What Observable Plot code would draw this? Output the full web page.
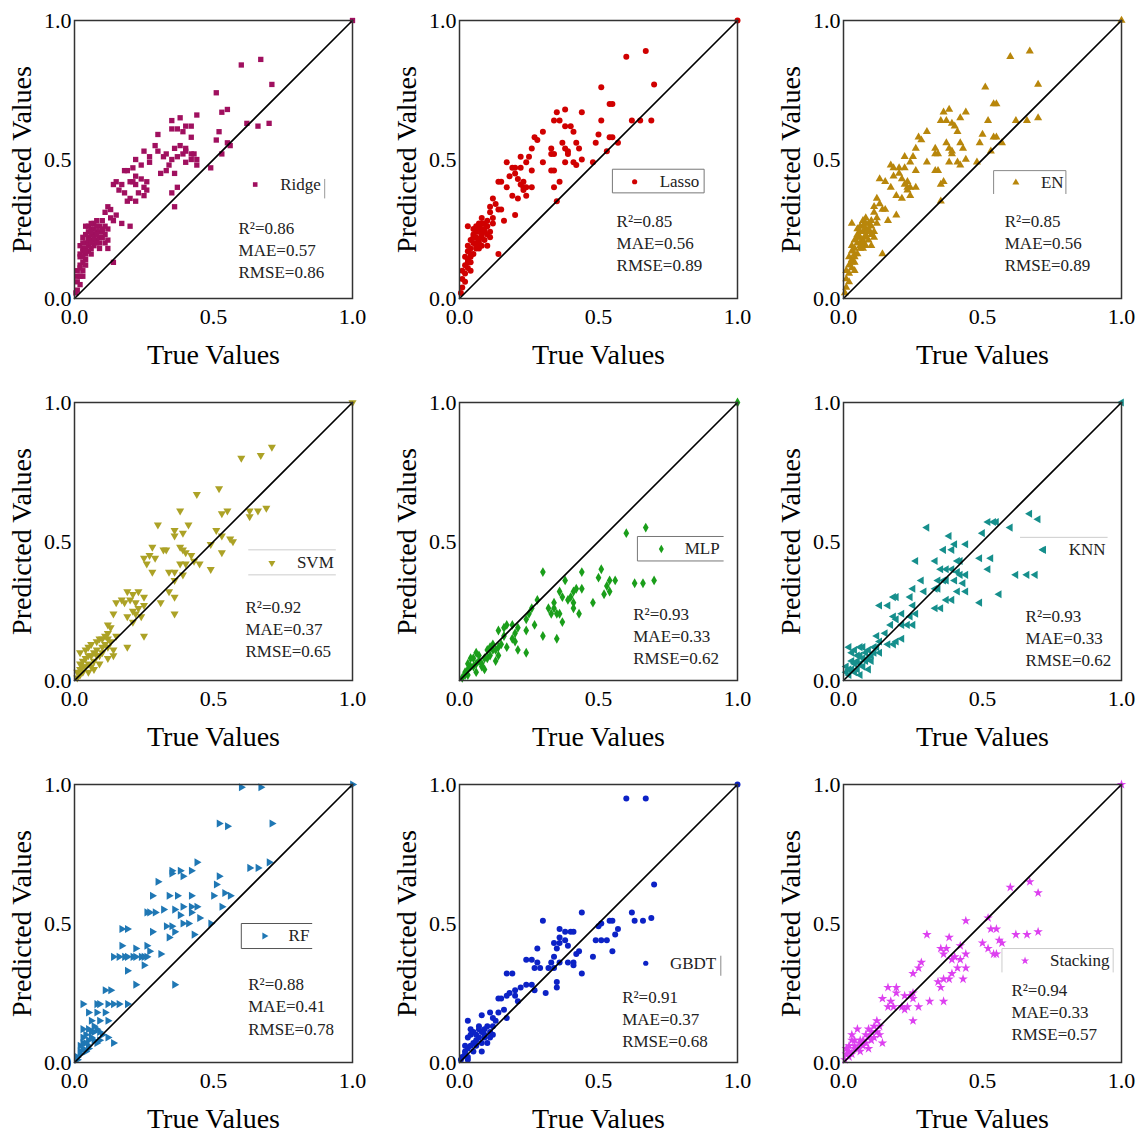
<!DOCTYPE html>
<html><head><meta charset="utf-8">
<script src="https://cdn.jsdelivr.net/npm/d3@7"></script>
<script src="https://cdn.jsdelivr.net/npm/@observablehq/plot@0.6"></script>
<style>
body{margin:0;background:#fff;}
#wrap{position:relative;width:1137px;height:1135px;overflow:hidden;background:#fff;}
.panel{position:absolute;width:379px;}
.panel svg{max-width:none !important;}
</style></head><body><div id="wrap"></div>
<script>
const models = ["Ridge","Lasso","EN","SVM","MLP","KNN","RF","GBDT","Stacking"];
const colors = ["#a0105f","#d00000","#b8860b","#aca226","#1a9e1a","#168f8c","#1f77b4","#0c22c6","#dd40f0"];
const symbols = ["square","circle","triangle","triangle","diamond","triangle","triangle","circle","star"];
const rotations = [0,0,0,180,0,-90,90,0,0];
const r2 = [0.86,0.85,0.85,0.92,0.93,0.93,0.88,0.91,0.94];
const mae = [0.57,0.56,0.56,0.37,0.33,0.33,0.41,0.37,0.33];
const rmse = [0.86,0.89,0.89,0.65,0.62,0.62,0.78,0.68,0.57];
const xTicks = [0,0.5,1];
const yTicksList = [[0,0.5,1],[0,0.5,1],[0,0.5,1],[0,0.5,1],[0.5,1],[0,0.5,1],[0,0.5,1],[0,0.5,1],[0,0.5,1]];

const ridgePoints = [[0.60,0.84],[0.67,0.86],[0.71,0.77],[0.51,0.74],[0.55,0.68],[0.53,0.67],[0.44,0.66],[0.38,0.65],[0.35,0.64],[0.62,0.63],[0.66,0.62],[0.70,0.63],[0.52,0.60],[0.35,0.61],[0.37,0.61],[0.39,0.60],[0.40,0.62],[0.42,0.62],[0.30,0.59],[0.42,0.58],[0.51,0.57],[0.55,0.56],[0.56,0.55],[0.53,0.52],[0.49,0.47],
[0.38,0.55],[0.40,0.54],[0.36,0.54],[0.39,0.52],[0.40,0.53],[0.42,0.52],[0.43,0.52],[0.44,0.50],[0.44,0.48],[0.42,0.50],[0.40,0.49],[0.37,0.51],[0.35,0.50],[0.34,0.48],[0.36,0.45],[0.33,0.46],[0.31,0.45],[0.33,0.52],[0.32,0.51],
[0.29,0.55],[0.25,0.53],[0.30,0.53],[0.27,0.51],[0.22,0.50],[0.24,0.48],[0.27,0.49],
[0.18,0.46],[0.19,0.46],[0.21,0.47],[0.22,0.44],[0.21,0.42],[0.22,0.41],[0.24,0.43],[0.26,0.42],[0.25,0.40],[0.20,0.42],[0.17,0.41],[0.15,0.42],[0.14,0.41],[0.16,0.39],[0.18,0.38],[0.20,0.36],[0.22,0.35],[0.19,0.35],[0.25,0.37],[0.26,0.39],[0.23,0.38],
[0.35,0.38],[0.37,0.40],[0.36,0.33],
[0.12,0.33],[0.13,0.32],[0.11,0.31],[0.15,0.30],[0.14,0.28],[0.13,0.29],[0.17,0.27],[0.20,0.26],[0.10,0.28],[0.09,0.26],[0.10,0.24],[0.12,0.25],[0.08,0.28],[0.07,0.27],[0.09,0.22],[0.11,0.20],[0.12,0.18],[0.09,0.18],[0.08,0.21],[0.07,0.23],[0.06,0.25],[0.05,0.24],[0.04,0.26],[0.05,0.22],[0.06,0.21],[0.04,0.20],[0.03,0.22],[0.07,0.19],[0.08,0.24],[0.06,0.18],[0.05,0.17],[0.04,0.16],[0.03,0.18],[0.02,0.19],[0.04,0.14],[0.03,0.13],[0.02,0.15],[0.03,0.10],[0.02,0.12],[0.01,0.10],[0.02,0.08],[0.01,0.06],[0.02,0.05],[0.01,0.03],[0.005,0.02],[0.01,0.08],[0.02,0.16],[0.03,0.15],[0.05,0.19],[0.06,0.23],[0.07,0.21],[0.08,0.20],[0.09,0.24],[0.10,0.22],[0.05,0.20],[0.04,0.23],[0.06,0.16],[0.14,0.13],[0.07,0.25],[0.08,0.26],[0.06,0.27],[0.11,0.26],[0.03,0.17],[0.04,0.12],
[0.05,0.26],[0.06,0.24],[0.07,0.22],[0.08,0.23],[0.09,0.20],[0.10,0.25],[0.11,0.23],[0.12,0.21],[0.05,0.21],[0.04,0.18],[0.03,0.20],[0.02,0.11],[0.03,0.08],[0.04,0.17],[0.06,0.20],[1.0,1.0]];

const lassoPoints = [[0.60,0.87],[0.67,0.89],[0.70,0.77],[0.51,0.76],[0.54,0.70],[0.55,0.70],[0.44,0.67],[0.35,0.67],[0.38,0.68],[0.34,0.64],[0.36,0.64],[0.38,0.62],[0.40,0.62],[0.51,0.64],[0.62,0.64],[0.65,0.64],[0.69,0.64],[0.30,0.60],[0.41,0.60],[0.50,0.59],[0.54,0.58],[0.55,0.58],[0.57,0.56],[0.49,0.56],[0.53,0.53],[0.48,0.49],
[0.27,0.58],[0.28,0.57],[0.26,0.54],[0.22,0.51],[0.24,0.49],[0.25,0.51],[0.26,0.46],[0.30,0.49],[0.33,0.54],[0.33,0.52],[0.34,0.52],[0.37,0.56],[0.38,0.54],[0.39,0.53],[0.39,0.52],[0.42,0.56],[0.43,0.54],[0.44,0.50],[0.41,0.49],[0.42,0.48],[0.38,0.49],[0.33,0.46],[0.34,0.46],[0.34,0.40],[0.36,0.42],[0.35,0.35],
[0.17,0.49],[0.19,0.47],[0.20,0.47],[0.22,0.47],[0.20,0.45],[0.18,0.44],[0.21,0.43],[0.22,0.41],[0.23,0.42],[0.24,0.40],[0.23,0.40],[0.26,0.40],[0.23,0.39],[0.14,0.42],[0.15,0.42],[0.17,0.40],[0.19,0.37],[0.21,0.36],[0.24,0.37],
[0.12,0.36],[0.13,0.34],[0.11,0.33],[0.14,0.32],[0.15,0.32],[0.11,0.31],[0.12,0.29],[0.16,0.28],[0.20,0.30],[0.10,0.28],[0.08,0.29],[0.07,0.27],[0.03,0.26],[0.14,0.16],
[0.10,0.26],[0.09,0.24],[0.11,0.22],[0.08,0.25],[0.07,0.24],[0.06,0.26],[0.09,0.21],[0.10,0.19],[0.08,0.19],[0.07,0.21],[0.06,0.22],[0.05,0.23],[0.05,0.20],[0.04,0.21],[0.04,0.18],[0.06,0.18],[0.05,0.16],[0.03,0.17],[0.03,0.14],[0.04,0.13],[0.02,0.15],[0.02,0.12],[0.03,0.11],[0.02,0.09],[0.01,0.07],[0.02,0.06],[0.01,0.04],[0.005,0.02],[0.01,0.10],[0.04,0.15],[0.06,0.20],[0.07,0.18],[0.08,0.22],[0.09,0.27],[0.12,0.27],[0.11,0.24],[0.05,0.25],[0.03,0.19],[0.06,0.24],[0.04,0.10],
[0.07,0.26],[0.08,0.27],[0.09,0.25],[0.10,0.23],[0.05,0.22],[0.06,0.19],[0.04,0.16],[0.03,0.13],[0.07,0.20],[0.08,0.23],[1.0,1.0]];

const enPoints = [[0.60,0.87],[0.67,0.89],[0.70,0.77],[0.51,0.76],[0.54,0.70],[0.55,0.70],[0.44,0.67],[0.36,0.67],[0.38,0.68],[0.35,0.64],[0.37,0.64],[0.39,0.63],[0.40,0.62],[0.42,0.65],[0.52,0.64],[0.62,0.64],[0.66,0.64],[0.70,0.65],[0.30,0.60],[0.41,0.60],[0.50,0.59],[0.54,0.58],[0.55,0.58],[0.57,0.56],[0.49,0.56],[0.53,0.53],[0.48,0.49],
[0.27,0.58],[0.28,0.57],[0.26,0.54],[0.22,0.51],[0.24,0.49],[0.25,0.51],[0.26,0.46],[0.30,0.49],[0.33,0.54],[0.33,0.52],[0.34,0.52],[0.37,0.56],[0.38,0.54],[0.39,0.53],[0.39,0.52],[0.42,0.56],[0.43,0.54],[0.44,0.50],[0.41,0.49],[0.42,0.48],[0.38,0.49],[0.33,0.46],[0.34,0.46],[0.35,0.41],[0.36,0.42],[0.35,0.35],
[0.17,0.48],[0.18,0.47],[0.20,0.47],[0.22,0.47],[0.20,0.45],[0.18,0.44],[0.21,0.43],[0.22,0.41],[0.23,0.42],[0.24,0.40],[0.23,0.40],[0.26,0.40],[0.23,0.39],[0.13,0.43],[0.15,0.42],[0.17,0.40],[0.19,0.37],[0.21,0.36],[0.24,0.37],
[0.12,0.36],[0.13,0.34],[0.11,0.33],[0.14,0.32],[0.15,0.32],[0.11,0.31],[0.12,0.29],[0.16,0.28],[0.19,0.30],[0.10,0.28],[0.08,0.29],[0.07,0.28],[0.03,0.27],[0.14,0.16],
[0.10,0.26],[0.09,0.24],[0.11,0.22],[0.08,0.25],[0.07,0.24],[0.06,0.26],[0.09,0.21],[0.10,0.19],[0.08,0.19],[0.07,0.21],[0.06,0.22],[0.05,0.23],[0.05,0.20],[0.04,0.21],[0.04,0.18],[0.06,0.18],[0.05,0.16],[0.03,0.17],[0.03,0.14],[0.04,0.13],[0.02,0.15],[0.02,0.12],[0.03,0.11],[0.02,0.09],[0.01,0.07],[0.02,0.06],[0.01,0.04],[0.005,0.02],[0.01,0.10],[0.04,0.15],[0.06,0.20],[0.07,0.18],[0.08,0.22],[0.09,0.27],[0.12,0.27],[0.11,0.24],[0.05,0.25],[0.03,0.19],[0.06,0.24],[0.04,0.10],
[0.07,0.26],[0.08,0.27],[0.09,0.25],[0.10,0.23],[0.05,0.22],[0.06,0.19],[0.04,0.16],[0.03,0.13],[0.07,0.20],[0.08,0.23],[1.0,1.0]];

const svmPoints = [[0.71,0.84],[0.67,0.81],[0.60,0.80],[0.52,0.69],[0.44,0.67],[0.69,0.62],[0.66,0.61],[0.63,0.61],[0.63,0.59],[0.53,0.60],[0.55,0.61],[0.38,0.61],[0.30,0.56],[0.41,0.56],[0.36,0.54],[0.36,0.52],[0.39,0.53],[0.51,0.54],[0.53,0.52],[0.56,0.51],[0.57,0.50],[0.49,0.49],[0.53,0.46],[0.49,0.40],[0.28,0.48],[0.32,0.47],[0.33,0.47],[0.38,0.48],[0.39,0.47],[0.40,0.46],[0.42,0.45],[0.43,0.43],[0.45,0.42],[0.38,0.42],[0.40,0.42],[0.36,0.39],[0.34,0.39],[0.39,0.38],[0.36,0.36],[0.25,0.44],[0.27,0.45],[0.29,0.44],[0.26,0.42],[0.28,0.39],[0.34,0.32],[0.36,0.30],[0.31,0.28],[0.36,0.24],
[0.19,0.32],[0.21,0.31],[0.23,0.32],[0.15,0.28],[0.17,0.29],[0.18,0.28],[0.20,0.29],[0.22,0.28],[0.23,0.26],[0.25,0.30],[0.25,0.27],[0.21,0.25],[0.22,0.24],[0.24,0.23],[0.21,0.21],[0.19,0.23],[0.25,0.16],[0.14,0.24],[0.12,0.20],[0.13,0.19],[0.12,0.17],[0.15,0.16],[0.11,0.16],[0.19,0.12],
[0.02,0.10],[0.04,0.11],[0.06,0.13],[0.08,0.14],[0.09,0.15],[0.05,0.12],[0.03,0.07],[0.07,0.07],[0.08,0.09],[0.10,0.10],[0.12,0.12],[0.09,0.06],[0.07,0.04],[0.05,0.03],[0.02,0.02],[0.12,0.08],[0.14,0.09],[0.14,0.11],
[0.01,0.01],[0.02,0.04],[0.03,0.03],[0.04,0.05],[0.05,0.06],[0.06,0.05],[0.04,0.08],[0.03,0.05],[0.06,0.09],[0.08,0.11],[0.07,0.10],[0.10,0.12],[0.11,0.13],[0.09,0.09],[0.05,0.09],[0.01,0.03],[0.02,0.06],[0.10,0.15],[0.12,0.15],[0.13,0.14],[1.0,1.0]];

const mlpPoints = [[0.67,0.55],[0.60,0.53],[0.30,0.39],[0.38,0.36],[0.44,0.39],[0.51,0.40],[0.50,0.37],[0.54,0.36],[0.56,0.36],[0.63,0.35],[0.66,0.35],[0.70,0.36],[0.53,0.34],[0.54,0.32],[0.52,0.31],[0.48,0.28],
[0.36,0.32],[0.37,0.30],[0.39,0.29],[0.40,0.30],[0.41,0.32],[0.42,0.33],[0.44,0.33],[0.41,0.28],[0.41,0.26],[0.43,0.24],[0.36,0.24],[0.35,0.24],[0.33,0.24],[0.34,0.26],[0.37,0.21],[0.35,0.15],[0.30,0.16],[0.34,0.28],[0.32,0.26],
[0.28,0.29],[0.26,0.26],[0.25,0.24],[0.24,0.22],[0.27,0.20],[0.24,0.18],[0.21,0.19],[0.20,0.17],[0.19,0.15],[0.16,0.16],[0.14,0.18],[0.16,0.19],[0.17,0.20],[0.19,0.20],[0.20,0.14],[0.24,0.10],[0.21,0.11],[0.17,0.12],
[0.14,0.12],[0.12,0.11],[0.10,0.11],[0.11,0.09],[0.09,0.08],[0.07,0.07],[0.05,0.08],[0.04,0.08],[0.08,0.05],[0.03,0.04],[0.02,0.02],[0.01,0.01],[0.06,0.03],[0.09,0.04],[0.14,0.09],[0.13,0.07],
[0.02,0.03],[0.03,0.02],[0.04,0.05],[0.05,0.05],[0.06,0.06],[0.07,0.09],[0.08,0.06],[0.10,0.08],[0.11,0.12],[0.12,0.13],[0.13,0.11],[0.15,0.13],[0.03,0.06],[0.06,0.10],[1.0,1.0]];

const knnPoints = [[0.67,0.60],[0.70,0.58],[0.52,0.57],[0.54,0.57],[0.55,0.57],[0.60,0.55],[0.30,0.55],[0.50,0.53],[0.38,0.52],[0.40,0.49],[0.44,0.49],[0.36,0.47],[0.39,0.47],[0.72,0.47],[0.26,0.43],[0.33,0.43],[0.41,0.43],[0.42,0.43],[0.49,0.44],[0.53,0.44],[0.52,0.40],[0.35,0.40],[0.37,0.40],[0.39,0.40],[0.41,0.39],[0.42,0.38],[0.44,0.38],[0.62,0.38],[0.66,0.38],[0.69,0.38],[0.28,0.36],[0.34,0.36],[0.36,0.36],[0.37,0.36],[0.40,0.36],[0.43,0.35],[0.25,0.33],[0.29,0.32],[0.33,0.33],[0.34,0.33],[0.41,0.32],[0.44,0.32],[0.56,0.31],[0.49,0.28],[0.37,0.29],[0.39,0.29],[0.35,0.26],[0.33,0.26],
[0.18,0.30],[0.19,0.30],[0.24,0.30],[0.13,0.27],[0.16,0.27],[0.25,0.27],[0.26,0.24],[0.24,0.23],[0.25,0.20],[0.21,0.24],[0.19,0.22],[0.18,0.23],[0.21,0.20],[0.23,0.20],[0.17,0.20],[0.15,0.17],[0.16,0.13],[0.18,0.13],[0.19,0.14],[0.21,0.15],[0.13,0.14],[0.12,0.16],
[0.02,0.12],[0.04,0.11],[0.06,0.12],[0.07,0.12],[0.09,0.11],[0.11,0.12],[0.13,0.10],[0.03,0.10],[0.05,0.09],[0.07,0.08],[0.09,0.08],[0.10,0.07],[0.03,0.07],[0.01,0.05],[0.05,0.04],[0.07,0.05],[0.01,0.03],[0.02,0.02],[0.06,0.02],[0.09,0.04],
[0.03,0.04],[0.04,0.06],[0.05,0.07],[0.06,0.06],[0.08,0.07],[0.08,0.10],[0.10,0.09],[0.11,0.10],[0.12,0.12],[0.04,0.03],[0.02,0.04],[0.06,0.09],[1.0,1.0]];

const rfPoints = [[0.60,0.99],[0.67,0.99],[0.71,0.86],[0.52,0.86],[0.55,0.85],[0.63,0.70],[0.66,0.70],[0.70,0.72],[0.44,0.72],[0.42,0.69],[0.38,0.69],[0.35,0.69],[0.35,0.68],[0.39,0.67],[0.52,0.67],[0.51,0.64],[0.30,0.65],[0.54,0.61],[0.56,0.60],[0.50,0.60],[0.28,0.60],[0.34,0.60],[0.37,0.60],[0.42,0.60],[0.53,0.56],[0.39,0.56],[0.42,0.56],[0.44,0.56],[0.32,0.55],[0.36,0.55],[0.38,0.53],[0.42,0.54],[0.45,0.52],[0.26,0.54],[0.27,0.54],[0.29,0.54],[0.49,0.50],[0.33,0.49],[0.35,0.49],[0.36,0.47],[0.34,0.45],[0.39,0.50],[0.41,0.50],[0.43,0.46],[0.28,0.47],[0.17,0.48],[0.19,0.48],
[0.17,0.42],[0.22,0.41],[0.26,0.42],[0.14,0.38],[0.16,0.38],[0.18,0.38],[0.19,0.38],[0.21,0.38],[0.22,0.38],[0.24,0.38],[0.25,0.38],[0.26,0.38],[0.27,0.40],[0.25,0.35],[0.19,0.33],[0.31,0.39],[0.22,0.28],[0.36,0.28],
[0.11,0.26],[0.13,0.26],[0.03,0.21],[0.08,0.21],[0.09,0.21],[0.12,0.21],[0.14,0.21],[0.16,0.21],[0.19,0.21],[0.05,0.18],[0.08,0.18],[0.11,0.18],[0.06,0.15],[0.09,0.15],[0.12,0.15],[0.05,0.12],[0.07,0.11],[0.09,0.11],[0.12,0.09],[0.14,0.07],[0.03,0.07],[0.05,0.06],[0.02,0.04],[0.04,0.04],[0.06,0.09],[0.03,0.12],[0.08,0.07],[0.01,0.01],
[0.02,0.06],[0.03,0.09],[0.04,0.10],[0.05,0.08],[0.06,0.11],[0.07,0.13],[0.08,0.12],[0.04,0.07],[0.02,0.03],[0.03,0.05],[0.05,0.05],[0.07,0.08],[0.09,0.08],[0.10,0.10],[0.01,0.02],[1.0,1.0]];

const gbdtPoints = [[0.60,0.95],[0.67,0.95],[0.70,0.64],[0.44,0.54],[0.30,0.51],[0.62,0.54],[0.63,0.51],[0.66,0.51],[0.69,0.52],[0.54,0.51],[0.55,0.51],[0.51,0.50],[0.50,0.49],[0.57,0.48],[0.56,0.46],[0.53,0.44],[0.49,0.44],[0.51,0.44],[0.55,0.40],[0.48,0.38],[0.36,0.48],[0.38,0.47],[0.40,0.47],[0.41,0.47],
[0.36,0.45],[0.34,0.43],[0.36,0.43],[0.38,0.44],[0.39,0.42],[0.35,0.41],[0.42,0.39],[0.43,0.40],[0.41,0.36],[0.39,0.36],[0.41,0.35],[0.44,0.32],[0.36,0.36],[0.34,0.38],[0.33,0.36],[0.32,0.34],[0.34,0.34],[0.35,0.29],[0.35,0.27],[0.31,0.25],
[0.28,0.41],[0.24,0.37],[0.26,0.37],[0.28,0.36],[0.27,0.34],[0.29,0.34],[0.17,0.32],[0.19,0.32],[0.24,0.28],[0.26,0.28],[0.27,0.26],[0.22,0.27],[0.20,0.26],[0.18,0.25],[0.20,0.24],[0.17,0.24],[0.21,0.22],[0.14,0.23],[0.15,0.23],[0.16,0.19],[0.14,0.18],[0.12,0.16],[0.11,0.18],[0.13,0.15],[0.17,0.16],[0.11,0.11],[0.08,0.17],[0.07,0.13],[0.03,0.15],[0.09,0.12],
[0.04,0.12],[0.06,0.10],[0.08,0.11],[0.09,0.10],[0.03,0.09],[0.05,0.07],[0.06,0.08],[0.08,0.07],[0.10,0.07],[0.02,0.06],[0.03,0.05],[0.05,0.04],[0.08,0.04],[0.02,0.04],[0.01,0.02],[0.03,0.01],[0.005,0.01],[0.12,0.10],
[0.04,0.06],[0.06,0.06],[0.07,0.09],[0.09,0.09],[0.11,0.09],[0.04,0.10],[0.05,0.11],[0.07,0.12],[0.10,0.13],[0.12,0.13],[0.02,0.03],[0.03,0.02],[1.0,1.0]];

const stackingPoints = [[0.60,0.63],[0.67,0.65],[0.70,0.61],[0.52,0.52],[0.44,0.51],[0.30,0.46],[0.53,0.48],[0.55,0.48],[0.62,0.46],[0.66,0.46],[0.70,0.47],[0.50,0.43],[0.56,0.44],[0.57,0.43],[0.52,0.41],[0.54,0.39],[0.55,0.39],[0.38,0.45],[0.35,0.41],[0.37,0.41],[0.42,0.42],
[0.36,0.39],[0.39,0.37],[0.40,0.38],[0.42,0.37],[0.44,0.39],[0.41,0.34],[0.44,0.34],[0.43,0.30],[0.39,0.32],[0.38,0.30],[0.36,0.30],[0.35,0.27],[0.34,0.29],[0.36,0.22],[0.31,0.22],[0.28,0.36],[0.27,0.34],[0.25,0.32],
[0.16,0.27],[0.19,0.27],[0.19,0.25],[0.22,0.24],[0.24,0.24],[0.25,0.25],[0.25,0.23],[0.23,0.20],[0.22,0.19],[0.21,0.20],[0.18,0.20],[0.17,0.22],[0.14,0.23],[0.25,0.15],[0.16,0.20],[0.27,0.20],
[0.12,0.15],[0.13,0.13],[0.11,0.13],[0.09,0.12],[0.12,0.11],[0.14,0.07],[0.11,0.09],[0.09,0.09],[0.06,0.08],[0.07,0.06],[0.05,0.12],[0.03,0.10],[0.03,0.08],[0.04,0.06],[0.01,0.05],[0.01,0.03],[0.02,0.02],[0.005,0.01],[0.06,0.04],[0.09,0.05],
[0.02,0.04],[0.03,0.03],[0.04,0.05],[0.05,0.05],[0.06,0.07],[0.07,0.08],[0.08,0.07],[0.10,0.08],[0.08,0.10],[0.10,0.11],[0.13,0.10],[0.04,0.08],[0.02,0.06],[1.0,1.0]];

const pointSets = [ridgePoints,lassoPoints,enPoints,svmPoints,mlpPoints,knnPoints,rfPoints,gbdtPoints,stackingPoints];

// legend placement (data units within each panel): symbol x, symbol y, label x
const legendSymX = [0.65,0.63,0.62,0.71,0.726,0.716,0.683,0.67,0.653];
const legendSymY = [0.41,0.42,0.417,0.423,0.473,0.47,0.455,0.357,0.366];
const legendLabelX = [0.74,0.72,0.71,0.80,0.81,0.81,0.77,0.757,0.743];
const legendBoxes = [
  {x1:0.90,x2:0.90,y1:0.36,y2:0.43,sides:"r",stroke:"#999"},
  {x1:0.55,x2:0.88,y1:0.38,y2:0.465,sides:"tlbr",stroke:"#777"},
  {x1:0.54,x2:0.80,y1:0.376,y2:0.46,sides:"tlr",stroke:"#888"},
  {x1:0.625,x2:0.94,y1:0.38,y2:0.47,sides:"tb",stroke:"#ccc"},
  {x1:0.64,x2:0.95,y1:0.43,y2:0.518,sides:"tlb",stroke:"#777"},
  {x1:0.635,x2:0.95,y1:0.43,y2:0.515,sides:"t",stroke:"#ccc"},
  {x1:0.60,x2:0.855,y1:0.41,y2:0.50,sides:"tlb",stroke:"#555"},
  {x1:0.94,x2:0.94,y1:0.312,y2:0.384,sides:"r",stroke:"#888"},
  {x1:0.57,x2:0.97,y1:0.324,y2:0.41,sides:"tlr",stroke:"#ccc"}
];
const metricX = [0.59,0.565,0.58,0.615,0.625,0.655,0.625,0.585,0.604];
const metricTop = [0.29,0.315,0.313,0.30,0.274,0.268,0.316,0.27,0.297];

const panelLeft = [0,385,769];
const panelTop = [0,382,764];
const FONT = '"Liberation Serif","Times New Roman",serif';
const wrap = document.getElementById("wrap");
const identity = [0,1];

models.forEach((name,i)=>{
  const col = i%3, row = Math.floor(i/3);
  const b = legendBoxes[i];
  const segs = [];
  if (b.sides.includes("t")) segs.push({x1:b.x1,x2:b.x2,y1:b.y2,y2:b.y2});
  if (b.sides.includes("b")) segs.push({x1:b.x1,x2:b.x2,y1:b.y1,y2:b.y1});
  if (b.sides.includes("l")) segs.push({x1:b.x1,x2:b.x1,y1:b.y1,y2:b.y2});
  if (b.sides.includes("r")) segs.push({x1:b.x2,x2:b.x2,y1:b.y1,y2:b.y2});
  const metricText = `R²=${r2[i].toFixed(2)}\nMAE=${mae[i].toFixed(2)}\nRMSE=${rmse[i].toFixed(2)}`;
  const chart = Plot.plot({
    width: 379, height: 372,
    marginLeft: 74, marginRight: 27, marginTop: 20, marginBottom: 74,
    x: {domain: [0,1]},
    y: {domain: [0,1]},
    style: {fontFamily: FONT, fontSize: "22px", background: "transparent", color: "#000", overflow: "visible", maxWidth: "none"},
    marks: [
      Plot.axisX({ticks: xTicks, tickFormat: d => d.toFixed(1), tickSize: 0, tickPadding: 10, fontSize: 22, label: null}),
      Plot.axisY({ticks: yTicksList[i], tickFormat: d => d.toFixed(1), tickSize: 0, tickPadding: 3, fontSize: 22, label: null}),
      Plot.dot(pointSets[i], {x: d => d[0], y: d => d[1], symbol: symbols[i], fill: colors[i], r: 3, rotate: rotations[i]}),
      Plot.line(identity.map(v => [v, v]), {stroke: "#000", strokeWidth: 1.6}),
      Plot.frame({stroke: "#333", strokeWidth: 1.5}),
      Plot.link(segs, {x1: "x1", y1: "y1", x2: "x2", y2: "y2", stroke: b.stroke, strokeWidth: 1}),
      Plot.dot([{x: legendSymX[i], y: legendSymY[i]}], {x: "x", y: "y", symbol: symbols[i], fill: colors[i], r: 2.6, rotate: rotations[i]}),
      Plot.text([{x: legendLabelX[i], y: legendSymY[i], t: name}], {x: "x", y: "y", text: "t", textAnchor: "start", fontSize: 17, fill: "#222"}),
      Plot.text([{x: metricX[i], y: metricTop[i], t: metricText}], {x: "x", y: "y", text: "t", textAnchor: "start", lineAnchor: "top", lineHeight: 1.3, fontSize: 17, fill: "#222"}),
      Plot.text(["True Values"], {frameAnchor: "bottom", dy: 57, textAnchor: "middle", lineAnchor: "middle", fontSize: 28, fill: "#000"}),
      Plot.text(["Predicted Values"], {frameAnchor: "left", dx: -52, textAnchor: "middle", lineAnchor: "middle", rotate: -90, fontSize: 28, fill: "#000"})
    ]
  });
  chart.style.maxWidth = "none";
  const div = document.createElement("div");
  div.className = "panel";
  div.style.left = panelLeft[col] + "px";
  div.style.top = panelTop[row] + "px";
  div.appendChild(chart);
  wrap.appendChild(div);
});
</script></body></html>
